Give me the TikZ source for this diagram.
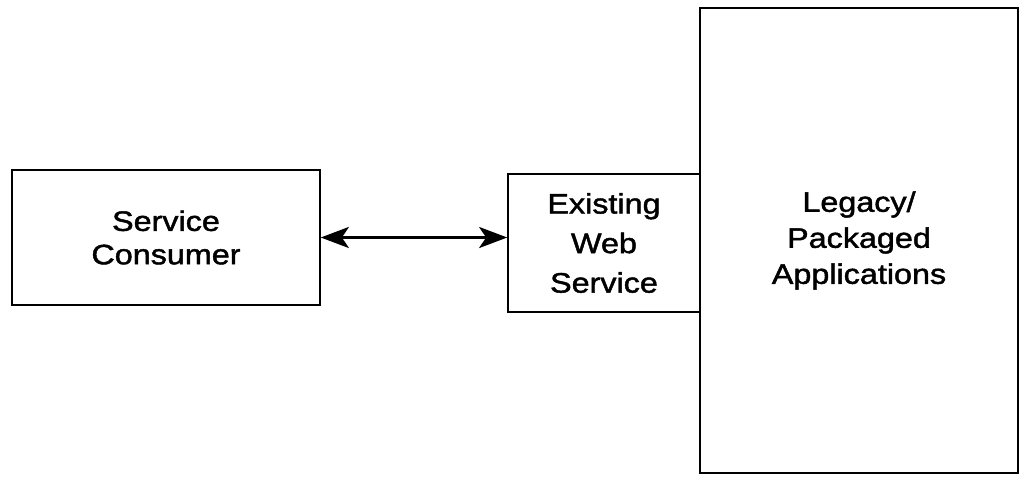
\documentclass[tikz,border=0pt]{standalone}
\usepackage{fontspec}
\setmainfont[FakeStretch=1.15,FakeBold=1.6]{Liberation Sans}
\usetikzlibrary{arrows.meta}

\begin{document}
\begin{tikzpicture}[x=0.02cm,y=-0.02cm,
    box/.style={draw,line width=0.9pt,align=center,inner sep=0pt,
      font=\fontsize{16}{19}\selectfont}]
  \useasboundingbox (0,0) rectangle (1020,477);
  \node[box,minimum width=308*0.02cm,minimum height=135*0.02cm] (consumer) at (166,237.5) {Service\\Consumer};
  \node[box,minimum width=192*0.02cm,minimum height=138*0.02cm,
    font=\fontsize{16}{22.5}\selectfont] (websvc) at (604,243) {Existing\\Web\\Service};
  \node[box,minimum width=318*0.02cm,minimum height=465*0.02cm,
    font=\fontsize{16}{20.5}\selectfont] (legacy) at (859,240.5) {Legacy/\\Packaged\\Applications};
  \draw[line width=1.4pt,{Stealth[length=16pt,width=12pt,inset=4pt]}-{Stealth[length=16pt,width=12pt,inset=4pt]}]
    (consumer.east) -- (consumer.east -| websvc.west);
\end{tikzpicture}
\end{document}
